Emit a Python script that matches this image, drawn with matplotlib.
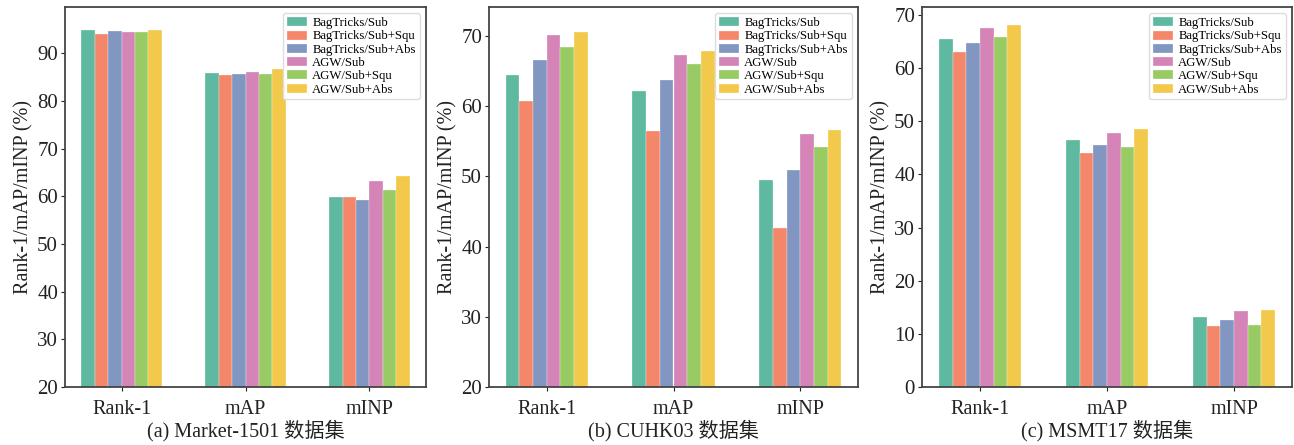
import matplotlib
matplotlib.use("Agg")
import matplotlib.pyplot as plt
import numpy as np

plt.rcParams['font.family'] = ['Liberation Serif', 'Noto Sans CJK SC']

metrics = ["Rank-1", "mAP", "mINP"]
methods = ["BagTricks/Sub", "BagTricks/Sub+Squ", "BagTricks/Sub+Abs",
           "AGW/Sub", "AGW/Sub+Squ", "AGW/Sub+Abs"]
colors = ["#5eb9a0", "#f4866a", "#8196c0", "#d484b6", "#98cb63", "#f3c94c"]

# rows: methods, columns: metrics (Rank-1, mAP, mINP)
market1501 = [
    [95.0, 86.0, 59.9],
    [94.1, 85.4, 59.9],
    [94.7, 85.6, 59.2],
    [94.6, 86.2, 63.2],
    [94.4, 85.7, 61.3],
    [95.0, 86.8, 64.2],
]
cuhk03 = [
    [64.4, 62.2, 49.5],
    [60.8, 56.5, 42.6],
    [66.6, 63.7, 50.9],
    [70.1, 67.3, 56.0],
    [68.5, 66.0, 54.2],
    [70.6, 67.9, 56.6],
]
msmt17 = [
    [65.4, 46.4, 13.2],
    [63.1, 44.0, 11.5],
    [64.8, 45.6, 12.7],
    [67.5, 47.8, 14.3],
    [65.8, 45.1, 11.6],
    [68.1, 48.5, 14.5],
]
captions = ["(a) Market-1501 数据集", "(b) CUHK03 数据集", "(c) MSMT17 数据集"]
y_bottoms = [20, 20, 0]
datasets = [market1501, cuhk03, msmt17]

fig = plt.figure(figsize=(12.94, 4.45), dpi=100)
rects = [
    [65 / 1294, 58 / 445, 361 / 1294, 380 / 445],
    [489 / 1294, 58 / 445, 369 / 1294, 380 / 445],
    [922 / 1294, 58 / 445, 370 / 1294, 380 / 445],
]

x = np.arange(len(metrics))
width = 0.108
for rect, data, cap, yb in zip(rects, datasets, captions, y_bottoms):
    ax = fig.add_axes(rect)
    arr = np.array(data)
    for i, (m, c) in enumerate(zip(methods, colors)):
        ax.bar(x + (i - 2.5) * width, arr[i], width, color=c, label=m,
               edgecolor='#ffffff', linewidth=0.2)
    ax.set_ylim(yb, arr.max() * 1.05)
    ax.set_xticks(x)
    ax.set_xticklabels(metrics, fontsize=14.5)
    ax.tick_params(axis='y', labelsize=15, length=3, pad=2, colors='#222222')
    ax.tick_params(axis='x', length=3, pad=6, colors='#222222')
    for lab in ax.get_yticklabels() + ax.get_xticklabels():
        lab.set_color('#222222')
    ax.set_ylabel("Rank-1/mAP/mINP (%)", fontsize=14.5, color='#222222', labelpad=3)
    ax.set_xlabel(cap, fontsize=14.5, color='#222222', labelpad=1)
    for s in ax.spines.values():
        s.set_color('#444444')
        s.set_linewidth(1.3)
    ax.legend(loc='upper right', fontsize=9.2, handlelength=1.6, labelspacing=0.1,
              handletextpad=0.4, borderpad=0.3, framealpha=1, edgecolor='#dddddd')

fig.savefig("out.png", dpi=100)
